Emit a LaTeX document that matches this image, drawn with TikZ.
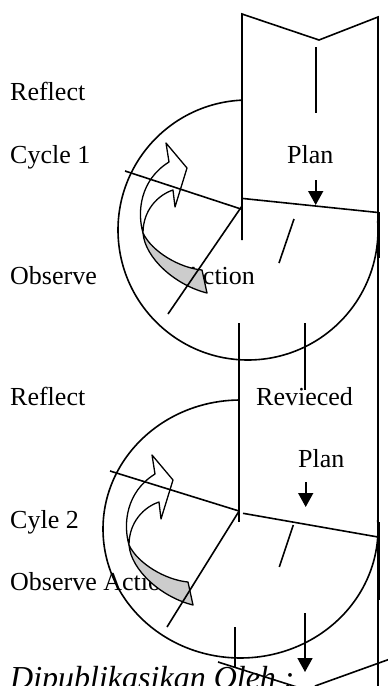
\documentclass[tikz,border=0pt]{standalone}
\usepackage{fontspec}
\setmainfont{Liberation Serif}
\usetikzlibrary{arrows.meta}

\begin{document}
\begin{tikzpicture}[
  x=1pt, y=-1pt,
  lbl/.style={anchor=base west, inner sep=0pt, font=\fontsize{26}{30}\selectfont},
  ln/.style={line width=1.6pt},
  plandown/.style={line width=1.6pt, -{Triangle[length=14pt,width=15pt]}},
  ribbon/.style={draw, line width=1.3pt, line join=round},
  cyclearrow/.pic={
    \path[ribbon, fill=white] (166,143) -- (187,168) -- (175,207) -- (173,190)
      .. controls (158,195) and (143,210) .. (143,233)
      .. controls (137,212) and (140,180) .. (169,162) -- cycle;
    \path[ribbon, fill=black!20] (143,233)
      .. controls (145,258) and (175,285) .. (207,293) -- (202,270)
      .. controls (180,268) and (152,252) .. (143,233) -- cycle;
  }
]
\path[use as bounding box, fill=white] (0,0) rectangle (388,686);

\node[lbl] (refl1) at (10,100) {Reflect};
\node[lbl] (cyc1) at (10,163) {Cycle 1};
\node[lbl] (plan1) at (287,163) {Plan};
\node[lbl] (obs1) at (10,284) {Observe};
\node[lbl] (act1) at (184,284) {Action};
\node[lbl] (refl2) at (10,405) {Reflect};
\node[lbl] (rev2) at (256,405) {Revieced};
\node[lbl] (plan2) at (298,467) {Plan};
\node[lbl] (cyc2) at (10,528) {Cyle 2};
\node[lbl] (obs2) at (10,590) {Observe Action};
\node[lbl, font=\fontsize{32}{36}\selectfont\itshape] (pub) at (10,688) {Dipublikasikan Oleh :};

\coordinate (c1) at (248,230);
\coordinate (c2) at (240.5,529);
\draw[ln] (c1) ++(267.4:130) arc[start angle=267.4, end angle=-4, radius=130];
\draw[ln] (c2) ++(269.4:137.5 and 129) arc[start angle=269.4, end angle=-4, x radius=137.5, y radius=129];

\pic (arr1) at (0,0) {cyclearrow};
\pic (arr2) at (-14,312) {cyclearrow};

\coordinate (hub1) at (242,206);
\coordinate (hub2) at (238.5,512);

\draw[ln] (242,240) -- (242,14) -- (319,40) -- (378,17) -- (378,686);
\draw[ln] (316,47) -- (316,113);
\draw[ln] (379.5,212) -- (379.5,258);
\draw[ln] (379.5,522) -- (379.5,600);

\draw[plandown] (315.7,180) -- (315.7,205);
\draw[ln] (125,171) -- (241,209);
\draw[ln] (243,198.5) -- (378,212.5);
\draw[ln] (hub1) -- (168,314);
\draw[ln] (294,219) -- (279,263);
\draw[ln] (239,323) -- (239,522);
\draw[ln] (305,323) -- (305,390);

\draw[plandown] (305.7,482) -- (305.7,507);
\draw[ln] (110,471) -- (239,511);
\draw[ln] (243,513.3) -- (378,537);
\draw[ln] (hub2) -- (167,627);
\draw[ln] (293.3,525) -- (279.3,567);
\draw[ln] (235,627) -- (235,668);
\draw[plandown] (305,613) -- (305,672);
\draw[ln] (218,662) -- (300,688);
\draw[ln] (315,686) -- (390,659);
\end{tikzpicture}
\end{document}
